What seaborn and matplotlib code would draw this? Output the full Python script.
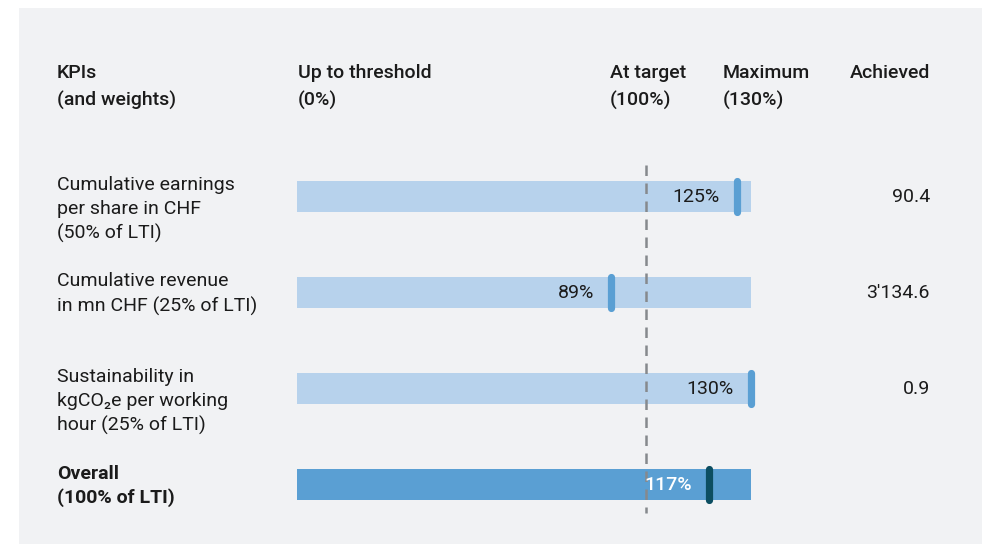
import matplotlib
matplotlib.use("Agg")
import matplotlib.pyplot as plt
import matplotlib.transforms as mtransforms
from matplotlib.patches import Rectangle
import seaborn as sns
import pandas as pd

# ---------------- data ----------------
kpi_labels = [
    "Cumulative earnings\nper share in CHF\n(50% of LTI)",
    "Cumulative revenue\nin mn CHF (25% of LTI)",
    "Sustainability in\nkgCO\u2082e per working\nhour (25% of LTI)",
    "Overall\n(100% of LTI)",
]
kpi_keys = ["EPS", "Revenue", "Sustainability", "Overall"]
achievement_pct = [125, 89, 130, 117]
achieved_values = ["90.4", "3'134.6", "0.9", ""]
scale_max = [130, 130, 130, 130]
target_pct = 100
header_labels = ["KPIs\n(and weights)", "Up to threshold\n(0%)", "At target\n(100%)",
                 "Maximum\n(130%)", "Achieved"]

# ---------------- style ----------------
W, H = 982, 544
sns.set_theme(style="white")
plt.rcParams["font.family"] = ["Roboto", "DejaVu Sans"]

TEXT = "#1b1b1b"
LIGHT = "#b7d2ec"
DARK = "#5a9fd3"
MARK_LIGHT = "#5a9fd3"
MARK_DARK = "#0c4e61"
PANEL = "#f1f2f4"
FS = 14

fig = plt.figure(figsize=(W / 100, H / 100), dpi=100, facecolor="white")
fig.patches.append(Rectangle((19 / W, 0), 1 - 19 / W, 1 - 8 / H,
                             transform=fig.transFigure, facecolor=PANEL,
                             edgecolor="none", zorder=-5))
ax = fig.add_axes([0, 0, 1, 1])
ax.set_facecolor("none")

df = pd.DataFrame({"kpi": kpi_keys, "max": scale_max, "ach": achievement_pct})
palette = {k: (DARK if k == "Overall" else LIGHT) for k in kpi_keys}
sns.barplot(data=df, x="max", y="kpi", hue="kpi", palette=palette, orient="h",
            width=0.323, linewidth=0, legend=False, ax=ax, saturation=1)

# coordinate frame: 0% at x=297px, 130% at x=751px; rows 96px apart starting 196.5px
x0, x130 = 297, 751
pxu = (x130 - x0) / 130.0
ax.set_xlim(-x0 / pxu, (W - x0) / pxu)
row_px, row0 = 96.0, 196.5
ax.set_ylim((H - row0) / row_px, -row0 / row_px)
ax.axis("off")

# target dashed line
ax.plot([target_pct, target_pct], [(165 - row0) / row_px, (513 - row0) / row_px],
        color="#86898d", lw=1.8, dashes=(4.2, 3.0), dash_capstyle="butt", zorder=3)

# markers (drawn just right of the value, kept inside the bar) and value labels
for i, (k, v, vmax) in enumerate(zip(kpi_keys, achievement_pct, scale_max)):
    overall = k == "Overall"
    shift = 3.5 if v < vmax else 0.0
    mk_tr = mtransforms.offset_copy(ax.transData, fig=fig, x=shift, y=0, units="dots")
    lab_tr = mtransforms.offset_copy(ax.transData, fig=fig, x=shift - 17, y=0, units="dots")
    ax.plot([v, v], [i - 0.162, i + 0.162], color=MARK_DARK if overall else MARK_LIGHT,
            lw=5.2, solid_capstyle="round", zorder=4, transform=mk_tr)
    ax.text(v, i, f"{v}%", transform=lab_tr, ha="right", va="center",
            fontsize=FS, color="white" if overall else TEXT,
            fontweight="medium" if overall else "normal", zorder=5)

# left labels and achieved values
for i, (lab, val) in enumerate(zip(kpi_labels, achieved_values)):
    n = lab.count("\n") + 1
    yc = row0 + i * row_px + (n - 2) * 11.75 + 1.5
    fig.text(57 / W, 1 - yc / H, lab, ha="left", va="center", fontsize=FS,
             color=TEXT, linespacing=1.4,
             fontweight="bold" if kpi_keys[i] == "Overall" else "normal")
    if val:
        fig.text(930 / W, 1 - (row0 + i * row_px) / H, val, ha="right",
                 va="center", fontsize=FS, color=TEXT)

# header
hx = [57, 298, 610, 723, 930]
for j, (x, h) in enumerate(zip(hx, header_labels)):
    fig.text(x / W, 1 - 64 / H, h, ha="right" if j == 4 else "left", va="top",
             fontsize=FS, color=TEXT, fontweight="medium", linespacing=1.6)

fig.savefig("out.png", dpi=100, facecolor="white")
